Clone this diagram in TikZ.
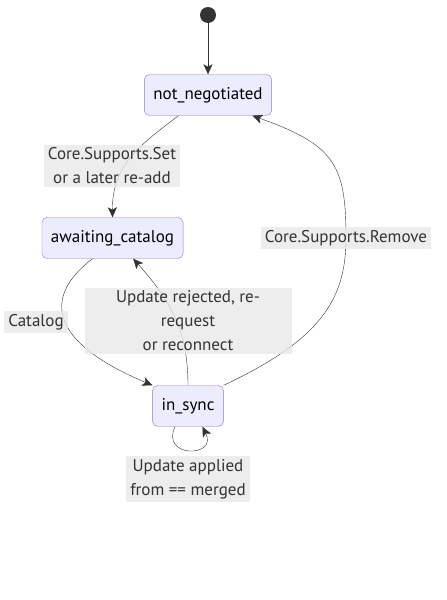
\documentclass[tikz,border=0pt]{standalone}
\usepackage{fontspec}
\setmainfont{PT Sans}
\usetikzlibrary{arrows.meta}
\definecolor{stateFill}{HTML}{ECECFF}
\definecolor{stateLine}{HTML}{9370DB}
\definecolor{edgeLine}{HTML}{333333}
\definecolor{labelFill}{HTML}{E8E8E8}
\tikzset{
line width=1.1pt, % all lines about 1px
>={Stealth[length=10pt,width=9pt,inset=2.5pt]}, % all arrows filled
my state/.style={draw=stateLine,fill=stateFill,rectangle,rounded corners=5pt,
  minimum height=41pt,inner xsep=9pt,text=black,font=\fontsize{17}{21}\selectfont},
my start/.style={circle,fill=edgeLine,inner sep=0pt,minimum size=16pt},
my label/.style={fill=labelFill,fill opacity=0.8,text opacity=1,text=edgeLine,
  align=center,inner xsep=4pt,inner ysep=3pt,font=\fontsize{17}{24}\selectfont},
my edge/.style={draw=edgeLine,->},
}
\begin{document}
\begin{tikzpicture}[x=1pt,y=-1pt]
\useasboundingbox (0,0) rectangle (447,600);
% states
\node[my start] (start) at (208,15) {};
\node[my state] (notneg) at (208,95) {not\_negotiated};
\node[my state] (await) at (112.5,238) {awaiting\_catalog};
\node[my state] (insync) at (188,406) {in\_sync};
% transitions
\draw[my edge] (start) -- (notneg);
\draw[my edge] (notneg.215) .. controls (140,145) and (112,165) .. (await.north);
\draw[my edge] (await.226) .. controls (45,295) and (45,340) .. (insync.north west);
\draw[my edge] (insync.north) .. controls (188,330) and (170,300) .. (await.315);
\draw[my edge] (insync.north east) .. controls (320,340) and (346,300) .. (346,238)
  .. controls (346,165) and (335,145) .. (notneg.335);
\draw[my edge] (insync.238) .. controls (160,458) and (218,458) .. (insync.305);
% transition labels
\node[my label] (lset) at (112,166) {Core.Supports.Set\\or a later re-add};
\node[my label] (lremove) at (346,238) {Core.Supports.Remove};
\node[my label] (lcatalog) at (36,322) {Catalog};
\node[my label,minimum width=207pt] (lreject) at (188,321) {Update rejected, re-\\request\\or reconnect};
\node[my label] (lapplied) at (188,479) {Update applied\\from == merged};
\end{tikzpicture}
\end{document}
